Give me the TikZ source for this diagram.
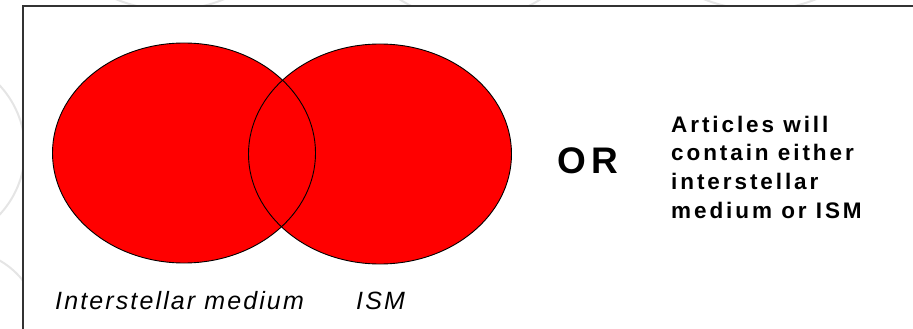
\documentclass[tikz,border=0pt]{standalone}
\usepackage{fontspec}
\setmainfont{Liberation Sans}
\newfontfamily\namefont[LetterSpace=8.5]{Liberation Sans}
\newfontfamily\notefont[LetterSpace=13]{Liberation Sans}
\newfontfamily\orfont[LetterSpace=16]{Liberation Sans}
\usetikzlibrary{positioning}
\tikzset{
    myset/.style={fill=red,draw=black,line width=0.9pt},
    myrim/.style={draw=black,line width=0.9pt},
    myframe/.style={draw=black!80,fill=white,line width=1.4pt},
    mydeco/.style={draw=black!10,line width=2pt},
    myname/.style={anchor=base west,inner sep=0pt,font=\namefont\itshape\fontsize{25}{30}\selectfont},
    mynote/.style={anchor=base west,inner sep=0pt,font=\notefont\bfseries\fontsize{22.5}{29}\selectfont},
    myor/.style={anchor=base west,inner sep=0pt,font=\orfont\bfseries\fontsize{37}{42}\selectfont}
}

\begin{document}
\begin{tikzpicture}[x=1pt,y=-1pt]
  \useasboundingbox (0,0) rectangle (913,329);
  \clip (0,0) rectangle (913,329);

  % faint slide background
  \foreach \cx/\cy/\r in {-70/150/95, 170/-130/140, 470/-110/130, 760/-140/150, -40/330/80}{
    \draw[mydeco] (\cx,\cy) circle (\r);
  }
  \draw[myframe] (23,6) rectangle (930,345);

  \coordinate (L) at (184,153);
  \coordinate (R) at (380,154);

  \foreach \P in {L,R}{\fill[red] (\P) ellipse [x radius=131.5,y radius=110];}
  \foreach \P in {L,R}{\draw[myrim] (\P) ellipse [x radius=131.5,y radius=110];}

  \node[myname] (term1) at (55,309) {Interstellar medium};
  \node[myname] (term2) at (356,309) {ISM};

  \node[myor] (or) at (557,173) {OR};

  \foreach \i/\t in {0/Articles will,1/contain either,2/interstellar,3/medium or ISM}{
    \node[mynote] (note\i) at (671,132+28.7*\i) {\t};
  }
\end{tikzpicture}
\end{document}
